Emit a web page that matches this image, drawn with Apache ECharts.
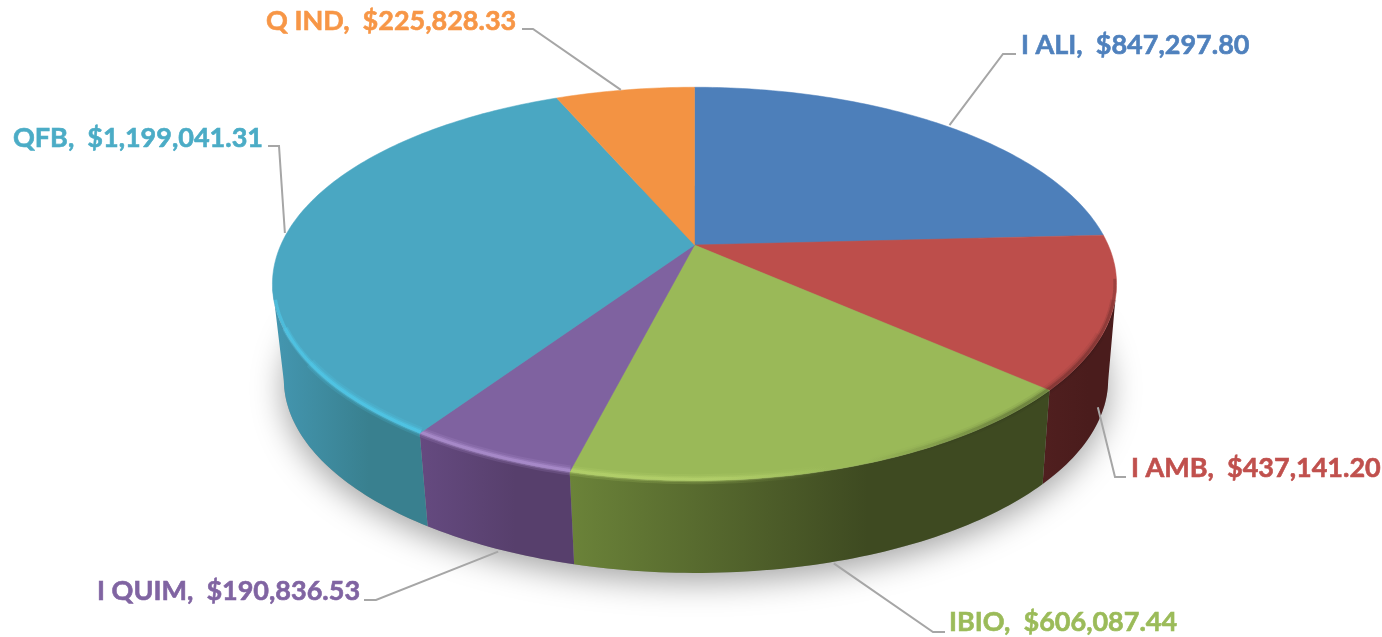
<!DOCTYPE html>
<html>
<head>
<meta charset="utf-8">
<title>Pie</title>
<script src="https://cdn.jsdelivr.net/npm/echarts@6/dist/echarts.min.js"></script>
<style>
  html, body { margin: 0; padding: 0; background: #fff; }
  #chart { width: 1382px; height: 637px; }
</style>
</head>
<body>
<div id="chart"></div>
<script>
const names = ['I ALI', 'I AMB', 'IBIO', 'I QUIM', 'QFB', 'Q IND']
const amounts = [847297.80, 437141.20, 606087.44, 190836.53, 1199041.31, 225828.33]
const topColors = ['#4D7FBA', '#BD4E4B', '#9AB958', '#7F62A0', '#4AA7C2', '#F39343']
const textColors = ['#4F81BD', '#C0504D', '#9BBB59', '#8064A2', '#4BACC6', '#F79646']
const sideLeft = ['#3A5F8C', '#501F1F', '#6B8339', '#654A80', '#4497B1', '#B56E32']
const sideRight = ['#3A5F8C', '#4A1C1C', '#3E4A21', '#573F6C', '#39808F', '#B56E32']
const rimColors = ['#6F9BD0', '#D06A66', '#B8D56E', '#B496D6', '#50CDEE', '#F9AE6A']

// 透视圆盘参数
const TOP = { cx: 694.5, cy: 245, rx: 413.7, ry: 189 }
const RIM = { cx: 694.5, cy: 245, rx: 412, ry: 187.8 }
const BOTTOM = { cx: 696, cy: 341, rx: 404, ry: 186 }
const K = 0.198
const SIDE_FROM = 102, SIDE_TO = 258
// 高光分层: 线宽, 透明度, 起止角
const RIM_LAYERS = [[10, 0.16, 116, 236], [6, 0.3, 106, 246], [3, 0.55, 100, 254]]

const total = amounts.reduce((a, b) => a + b, 0)
const pieData = amounts.map((v, i) => ({ name: names[i], value: v }))

// 标签和引导线的版面位置
const layout = [
  { x: 1021, y: 45, elbow: [1003, 54], end: [1016, 54], disc: TOP, shift: [6, 0] },
  { x: 1131, y: 468, elbow: [1115, 477], end: [1126, 477], disc: BOTTOM, shift: [-6, 0] },
  { x: 949, y: 622, elbow: [933, 632], end: [945, 632], disc: BOTTOM, shift: [-8, 3] },
  { x: 97, y: 591, elbow: [376, 600], end: [364, 600], disc: BOTTOM, shift: [2, 3] },
  { x: 13, y: 138, elbow: [279, 146], end: [268, 146], disc: TOP, shift: [-5, 5] },
  { x: 266, y: 21, elbow: [533, 29], end: [522, 29], disc: TOP, shift: [-4, 0] },
]

function project(deg, disc) {
  const a = deg * Math.PI / 180
  const u = Math.sin(a), v = -Math.cos(a)
  const d = 1 - K * v
  return [disc.cx + disc.rx * u / d, disc.cy + disc.ry * v / d]
}

function arc(from, to, disc) {
  const pts = []
  const n = Math.max(2, Math.ceil(Math.abs(to - from)))
  for (let i = 0; i <= n; i++) pts.push(project(from + (to - from) * i / n, disc))
  return pts
}

function sliceAngles(idx) {
  let from = 0
  for (let i = 0; i < idx; i++) from += amounts[i]
  return [from / total * 360, (from + amounts[idx]) / total * 360]
}

function renderSide(params, api) {
  const i = params.dataIndex
  const [a0, a1] = sliceAngles(i)
  const children = []
  // 底部阴影
  if (i === 0) {
    children.push({
      type: 'polygon',
      shape: { points: arc(0, 360, BOTTOM) },
      style: { fill: '#999', shadowColor: 'rgba(0,0,0,0.36)', shadowBlur: 32, shadowOffsetY: 9 },
    })
  }
  const from = Math.max(a0, SIDE_FROM), to = Math.min(a1, SIDE_TO)
  if (to > from) {
    children.push({
      type: 'polygon',
      shape: { points: arc(from, to, TOP).concat(arc(to, from, BOTTOM)) },
      style: {
        fill: {
          type: 'linear', x: 0, y: 0, x2: 1, y2: 0,
          colorStops: [
            { offset: 0, color: sideLeft[i] },
            { offset: 0.62, color: sideRight[i] },
            { offset: 1, color: sideRight[i] },
          ],
        },
      },
    })
  }
  return { type: 'group', children }
}

function rimStroke(color, alpha) {
  const dark = 'rgba(0,0,0,' + alpha * 0.3 + ')'
  return {
    type: 'linear', x: 272, y: 0, x2: 1117, y2: 0, global: true,
    colorStops: [
      { offset: 0, color: echarts.color.modifyAlpha(color, alpha) },
      { offset: 0.52, color: echarts.color.modifyAlpha(color, alpha) },
      { offset: 0.66, color: echarts.color.modifyAlpha(color, 0) },
      { offset: 0.7, color: 'rgba(0,0,0,0)' },
      { offset: 0.88, color: dark },
      { offset: 1, color: dark },
    ],
  }
}

function renderTop(params, api) {
  const i = params.dataIndex
  const [a0, a1] = sliceAngles(i)
  const children = [{
    type: 'polygon',
    shape: { points: [[TOP.cx, TOP.cy]].concat(arc(a0, a1, TOP)) },
    style: { fill: topColors[i], stroke: topColors[i], lineWidth: 0.5 },
  }]
  // 边缘高光
  RIM_LAYERS.forEach(([w, al, r0, r1]) => {
    const from = Math.max(a0, r0), to = Math.min(a1, r1)
    if (to <= from) return
    children.push({
      type: 'polyline',
      shape: { points: arc(from, to, RIM) },
      style: { fill: null, stroke: rimStroke(rimColors[i], al), lineWidth: w },
    })
  })
  return { type: 'group', children }
}

function renderLabel(params, api) {
  const i = params.dataIndex
  const [a0, a1] = sliceAngles(i)
  const pos = layout[i]
  const p = project((a0 + a1) / 2, pos.disc)
  const start = [p[0] + pos.shift[0], p[1] + pos.shift[1]]
  const text = names[i] + ',  $' + api.value(0).toLocaleString('en-US', { minimumFractionDigits: 2, maximumFractionDigits: 2 })
  return {
    type: 'group',
    children: [
      {
        type: 'polyline',
        shape: { points: [start, pos.elbow, pos.end] },
        style: { fill: null, stroke: '#A6A6A6', lineWidth: 2 },
      },
      {
        type: 'text',
        style: {
          x: pos.x, y: pos.y, text,
          fill: textColors[i],
          stroke: textColors[i],
          lineWidth: 0.6,
          font: 'bold 27px Lato',
          textAlign: 'left', textVerticalAlign: 'middle',
        },
      },
    ],
  }
}

const chart = echarts.init(document.getElementById('chart'))
const seriesBase = { type: 'custom', coordinateSystem: 'none', data: pieData, animation: false, silent: true, encode: { value: 0 } }
chart.setOption({
  backgroundColor: '#fff',
  animation: false,
  series: [
    Object.assign({ renderItem: renderSide, z: 1 }, seriesBase),
    Object.assign({ renderItem: renderTop, z: 2 }, seriesBase),
    Object.assign({ renderItem: renderLabel, z: 3 }, seriesBase),
  ],
})
</script>
</body>
</html>
